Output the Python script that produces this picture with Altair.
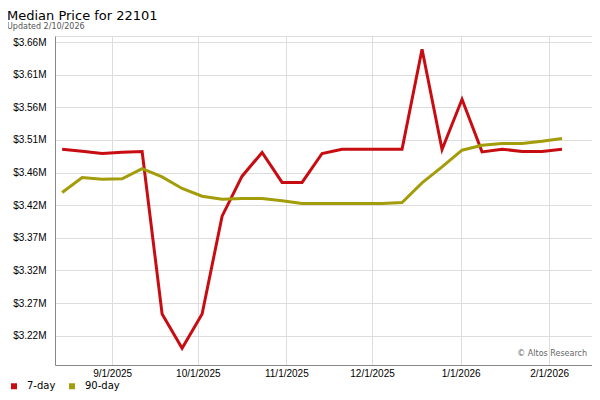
import altair as alt
import pandas as pd

dates = [
    "2025-08-14T12:00:00", "2025-08-21T12:00:00", "2025-08-28T12:00:00", "2025-09-04T12:00:00",
    "2025-09-11T12:00:00", "2025-09-18T12:00:00", "2025-09-25T12:00:00", "2025-10-02T12:00:00",
    "2025-10-09T12:00:00", "2025-10-16T12:00:00", "2025-10-23T12:00:00", "2025-10-30T12:00:00",
    "2025-11-06T12:00:00", "2025-11-13T12:00:00", "2025-11-20T12:00:00", "2025-11-27T12:00:00",
    "2025-12-04T12:00:00", "2025-12-11T12:00:00", "2025-12-18T12:00:00", "2025-12-25T12:00:00",
    "2026-01-01T12:00:00", "2026-01-08T12:00:00", "2026-01-15T12:00:00", "2026-01-22T12:00:00",
    "2026-01-29T12:00:00", "2026-02-05T12:00:00",
]
seven_day = [
    3499000, 3496000, 3492600, 3494500, 3495600, 3252000, 3200700, 3252000,
    3398700, 3458600, 3494100, 3449200, 3449200, 3492600, 3499000, 3499000,
    3499000, 3499000, 3648700, 3498600, 3573800, 3495000, 3499000, 3495600,
    3495600, 3499000,
]
ninety_day = [
    3434200, 3456600, 3454100, 3454600, 3469800, 3457500, 3440200, 3428600,
    3424200, 3425200, 3425200, 3421900, 3417700, 3417700, 3417700, 3417700,
    3417700, 3419200, 3448500, 3472500, 3497500, 3505000, 3507500, 3507500,
    3511000, 3515000,
]
series_names = ["7-day", "90-day"]
series_colors = ["#c80d12", "#a39c0b"]
y_ticks = [3219500, 3268400, 3317300, 3366200, 3415100, 3464000, 3512900, 3561800, 3610700, 3659600]

df = pd.DataFrame({
    "date": dates * 2,
    "value": seven_day + ninety_day,
    "series": [series_names[0]] * len(dates) + [series_names[1]] * len(dates),
})

FONT = "DejaVu Sans"
W, H = 537, 329

lines = alt.Chart(df).mark_line(strokeWidth=3, interpolate="linear").encode(
    x=alt.X(
        "date:T",
        scale=alt.Scale(domain=[alt.DateTime(year=2025, month=8, date=12),
                                alt.DateTime(year=2026, month=2, date=16)]),
        axis=alt.Axis(
            values=[alt.DateTime(year=2025, month=9, date=1), alt.DateTime(year=2025, month=10, date=1),
                    alt.DateTime(year=2025, month=11, date=1), alt.DateTime(year=2025, month=12, date=1),
                    alt.DateTime(year=2026, month=1, date=1), alt.DateTime(year=2026, month=2, date=1)],
            format="%-m/%-d/%Y", title=None, ticks=False, labelPadding=3,
        ),
    ),
    y=alt.Y(
        "value:Q",
        scale=alt.Scale(domain=[3175700, 3668600], nice=False, zero=False),
        axis=alt.Axis(values=y_ticks, title=None, ticks=False, labelPadding=9,
                      labelExpr="'$' + format(datum.value / 1000000, '.2f') + 'M'"),
    ),
    color=alt.Color(
        "series:N",
        scale=alt.Scale(domain=series_names, range=series_colors),
        legend=alt.Legend(
            title=None, orient="none", legendX=-46, legendY=345, direction="horizontal",
            symbolType="square", symbolSize=9, symbolStrokeWidth=3, labelFontSize=10,
            labelFont=FONT, labelColor="#000", labelOffset=8, columnPadding=8, padding=0,
        ),
    ),
    order=alt.Order("date:T"),
)

credit = alt.Chart(pd.DataFrame({"t": ["\u00a9 Altos Research"]})).mark_text(
    align="right", baseline="middle", fontSize=8, font=FONT, color="#666"
).encode(x=alt.value(W - 5), y=alt.value(H - 11), text="t:N")

chart = alt.layer(lines, credit).properties(
    width=W, height=H,
    title=alt.Title(
        text="Median Price for 22101", subtitle="Updated 2/10/2026",
        anchor="start", frame="group", dx=-48, offset=5,
        font=FONT, fontSize=13, fontWeight="normal", color="#000",
        subtitleFont=FONT, subtitleFontSize=8, subtitleColor="#555", subtitlePadding=0,
    ),
    autosize=alt.AutoSizeParams(type="none"),
    padding={"left": 47, "top": 28, "right": 0, "bottom": 26},
).configure_view(stroke="#dddddd", strokeWidth=1).configure_axis(
    gridColor="#dddddd", gridWidth=1, domainColor="#808080", domainWidth=3,
    labelFont=FONT, labelFontSize=9, labelColor="#666666",
).configure(background="white")

chart.save("out.html", embed_options={"renderer": "svg", "actions": False})
